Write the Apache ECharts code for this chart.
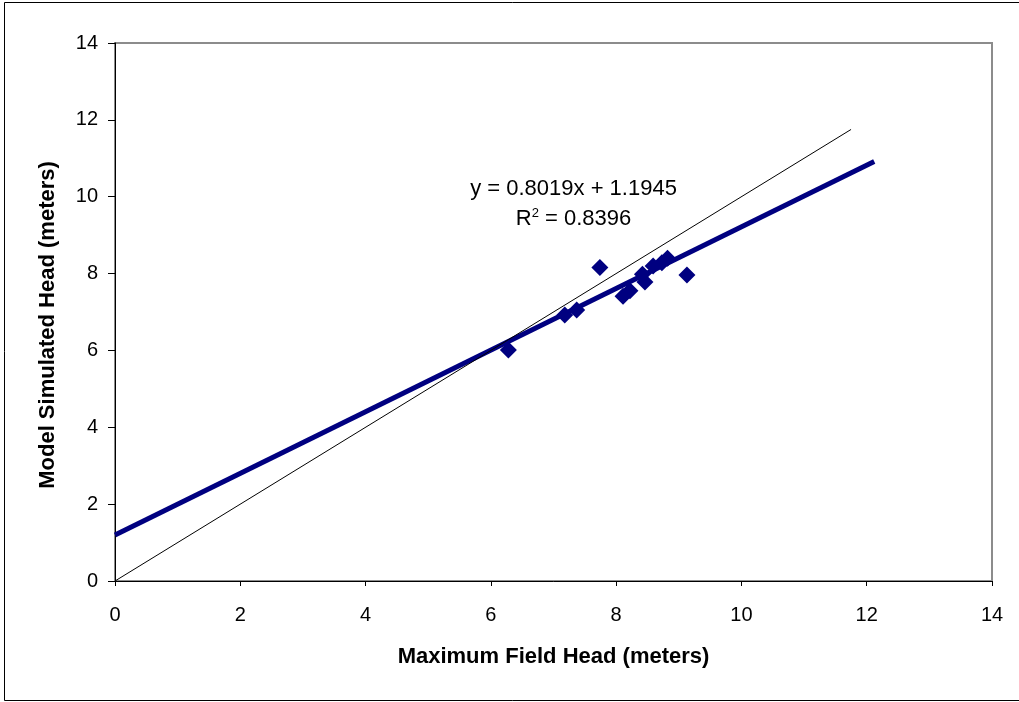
<!DOCTYPE html>
<html>
<head>
<meta charset="utf-8">
<script src="https://cdn.jsdelivr.net/npm/echarts@6/dist/echarts.min.js"></script>
<style>
html,body{margin:0;padding:0;background:#fff;}
#c{width:1019px;height:702px;}
</style>
</head>
<body>
<div id="c"></div>
<script>
// Observed points: [Maximum Field Head, Model Simulated Head]
const fieldHead = [6.28, 7.18, 7.37, 7.74, 8.11, 8.22, 8.42, 8.46, 8.59, 8.73, 8.82, 9.13];
const simHead   = [6.01, 6.92, 7.05, 8.16, 7.41, 7.55, 7.98, 7.78, 8.20, 8.28, 8.40, 7.96];
const slope = 0.8019, intercept = 1.1945;
const trendRange = [0, 12.12];
const oneToOneRange = [0, 11.75];
const axisTicks = [0, 2, 4, 6, 8, 10, 12, 14];
const eqText = 'y = 0.8019x + 1.1945';
const r2Value = '0.8396';

const pts = fieldHead.map((x, i) => [x, simHead[i]]);
const trend = trendRange.map(x => [x, slope * x + intercept]);
const ident = oneToOneRange.map(x => [x, x]);

const chart = echarts.init(document.getElementById('c'));
const font = 'Arial, "Liberation Sans", sans-serif';
const axisCommon = {
  min: axisTicks[0], max: axisTicks[axisTicks.length - 1], interval: 2,
  splitLine: { show: false },
  axisLine: { show: true, onZero: false, lineStyle: { color: '#000', width: 1 } },
  axisTick: { show: true, inside: false, length: 6, lineStyle: { color: '#000' } },
  axisLabel: { color: '#000', fontSize: 20, fontFamily: font },
  nameLocation: 'middle',
  nameTextStyle: { color: '#000', fontSize: 22, fontWeight: 'bold', fontFamily: font }
};
const border = { type: 'rect', shape: { x: 4.5, y: 2.5, width: 1030, height: 698 }, style: { fill: 'none', stroke: '#000', lineWidth: 1 }, silent: true, z: -10 };
chart.setOption({
  animation: false,
  backgroundColor: '#fff',
  grid: { left: 115, top: 43, right: 27, bottom: 121, show: true, borderColor: '#8c8c8c', borderWidth: 2, backgroundColor: 'transparent' },
  xAxis: Object.assign({}, axisCommon, {
    type: 'value', name: 'Maximum Field Head (meters)', nameGap: 65,
    nameTextStyle: Object.assign({}, axisCommon.nameTextStyle, { letterSpacing: 0.6 }),
    axisTick: Object.assign({}, axisCommon.axisTick, { length: 5 }),
    axisLabel: Object.assign({}, axisCommon.axisLabel, { margin: 24 })
  }),
  yAxis: Object.assign({}, axisCommon, {
    type: 'value', name: 'Model Simulated Head (meters)', nameGap: 56,
    nameTextStyle: Object.assign({}, axisCommon.nameTextStyle, { padding: [0, 26, 0, 0] }),
    axisTick: Object.assign({}, axisCommon.axisTick, { length: 7 }),
    axisLabel: Object.assign({}, axisCommon.axisLabel, { margin: 17 })
  }),
  graphic: [border],
  series: [
    { type: 'scatter', data: pts, symbol: 'diamond', symbolSize: 17, itemStyle: { color: '#000080', opacity: 1 }, z: 2 },
    { type: 'line', data: trend, showSymbol: false, lineStyle: { color: '#000080', width: 5 }, z: 3 },
    { type: 'line', data: ident, showSymbol: false, lineStyle: { color: '#000', width: 1 }, z: 4 }
  ]
});
const p1 = chart.convertToPixel({ gridIndex: 0 }, [7.32, 10.2]);
const p2 = chart.convertToPixel({ gridIndex: 0 }, [7.32, 9.43]);
chart.setOption({
  graphic: [
    border,
    { type: 'text', x: p1[0], y: p1[1], style: { text: eqText, fill: '#000', font: '22px ' + font, align: 'center', verticalAlign: 'middle' }, z: 10 },
    { type: 'text', x: p2[0], y: p2[1], style: {
        text: '{n|R}{s|2}{n| = ' + r2Value + '}', align: 'center', verticalAlign: 'middle',
        rich: { n: { fontSize: 22, fontFamily: font, color: '#000' }, s: { fontSize: 13, fontFamily: font, color: '#000', verticalAlign: 'top', padding: [0, 0, 10, 0] } }
      }, z: 10 }
  ]
});
</script>
</body>
</html>
